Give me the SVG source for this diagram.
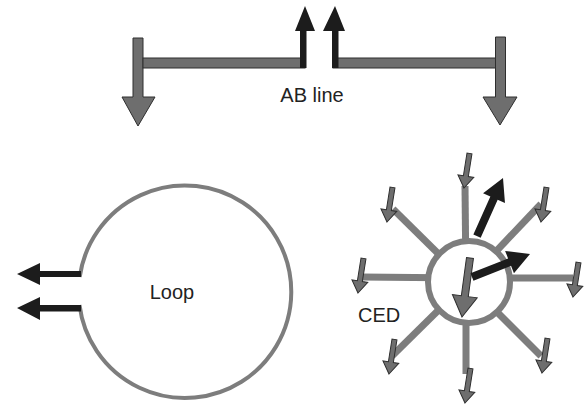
<svg xmlns="http://www.w3.org/2000/svg" xmlns:xlink="http://www.w3.org/1999/xlink" width="586" height="410" viewBox="0 0 586 410">
<style>
.lbl{font-family:"Liberation Sans",Arial,sans-serif;font-size:20px;fill:#222}
.garr{fill:#6e6e6e;stroke:#2e2e2e;stroke-width:1;stroke-linejoin:miter}
.barr{fill:#1c1c1c}
.spoke{stroke:#7d7d7d;stroke-width:7;fill:none}
.ring{stroke:#7d7d7d;fill:#fff}
</style>
<defs>
<path id="small" d="M0,0 L-12,-8 L-12,-2.5 L-35,-2.5 L-35,2.5 L-12,2.5 L-12,8 Z"/>
</defs>
<rect width="586" height="410" fill="#fff"/>

<g id="ab-line">
  <polygon class="garr" points="133,38 143,38 143,97 155,97 138,126 122,97 133,97"/>
  <polygon class="garr" points="495.5,37 505.5,37 505.5,97 517,97 500,125 483,97 495.5,97"/>
  <rect class="garr" x="143" y="58" width="162" height="10"/>
  <rect class="garr" x="333" y="58" width="162.5" height="10"/>
  <polygon class="barr" points="300,68 306.5,68 306.5,31 315,31 305,6 295,31 300,31"/>
  <polygon class="barr" points="332,68 338.5,68 338.5,31 345,31 335,6 323,31 332,31"/>
  <text class="lbl" x="312" y="102" text-anchor="middle">AB line</text>
</g>

<g id="loop">
  <path d="M79.7,277 A106.3,106.3 0 1 1 79.5,305" fill="none" stroke="#7d7d7d" stroke-width="4"/>
  <polygon class="barr" points="81,271 40,271 40,263 17,274 40,285 40,277 81,277"/>
  <polygon class="barr" points="81,305 40,305 40,297 17,308 40,320 40,311.5 81,311.5"/>
  <text class="lbl" x="172" y="299" text-anchor="middle">Loop</text>
</g>

<g id="ced">
  <g id="spokes">
    <line class="spoke" x1="465" y1="186" x2="466" y2="282"/>
    <line class="spoke" x1="393" y1="209" x2="467" y2="282"/>
    <line class="spoke" x1="541" y1="204" x2="467" y2="282"/>
    <line class="spoke" x1="361" y1="277" x2="467" y2="278"/>
    <line class="spoke" x1="573" y1="278" x2="467" y2="278"/>
    <line class="spoke" x1="392" y1="356" x2="467" y2="282"/>
    <line class="spoke" x1="466" y1="374" x2="466" y2="282"/>
    <line class="spoke" x1="541" y1="356" x2="467" y2="282"/>
  </g>
  <circle class="ring" cx="469" cy="282" r="41" stroke-width="6"/>
  <g id="small-arrows" class="garr">
    <use xlink:href="#small" transform="translate(464,188) rotate(99)"/>
    <use xlink:href="#small" transform="translate(387,222) rotate(99)"/>
    <use xlink:href="#small" transform="translate(541,222) rotate(99)"/>
    <use xlink:href="#small" transform="translate(358,293) rotate(99)"/>
    <use xlink:href="#small" transform="translate(573,297) rotate(99)"/>
    <use xlink:href="#small" transform="translate(389,374) rotate(99)"/>
    <use xlink:href="#small" transform="translate(465,403) rotate(99)"/>
    <use xlink:href="#small" transform="translate(542,373) rotate(99)"/>
  </g>
  <path class="garr" transform="translate(462,317) rotate(97.7)" d="M0,0 L-21,-12.5 L-21,-3.5 L-59.5,-3.5 L-59.5,3.5 L-21,3.5 L-21,12.5 Z"/>
  <path class="barr" transform="translate(503,178) rotate(-65.9)" d="M0,0 L-22,-12 L-22,-4 L-63.6,-4 L-63.6,4 L-22,4 L-22,12 Z"/>
  <path class="barr" transform="translate(530,254) rotate(-21.6)" d="M0,0 L-22,-12 L-22,-4 L-62.4,-4 L-62.4,4 L-22,4 L-22,12 Z"/>
  <text class="lbl" x="358" y="322">CED</text>
</g>
</svg>
